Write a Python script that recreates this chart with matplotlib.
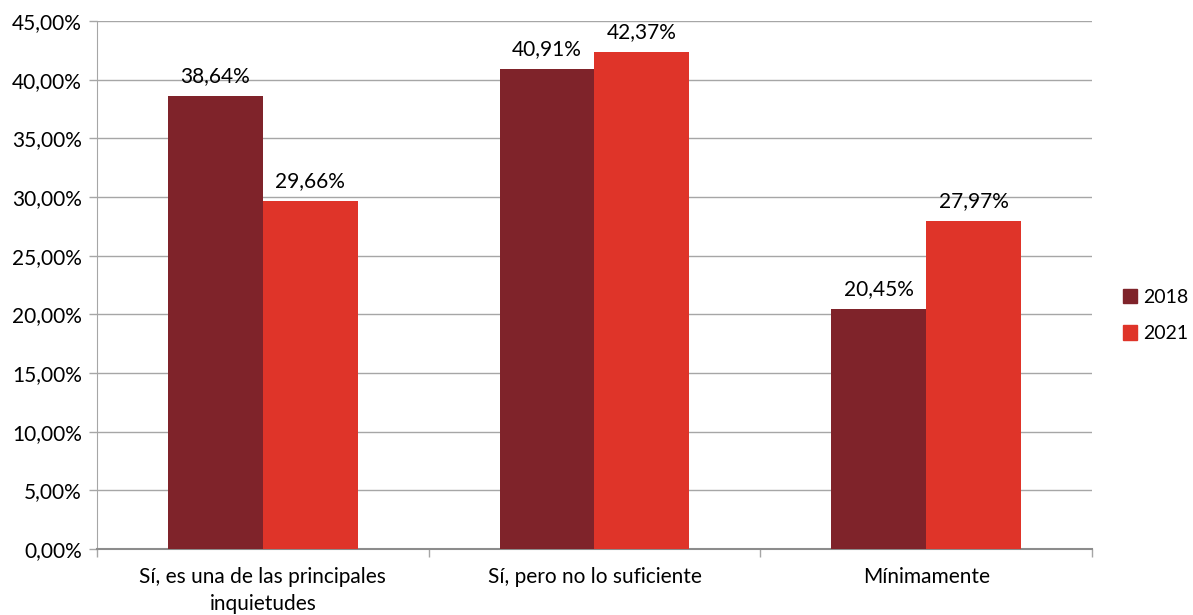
import matplotlib.pyplot as plt
import numpy as np
from matplotlib.patches import Patch

categories = ["Sí, es una de las principales\ninquietudes", "Sí, pero no lo suficiente", "Mínimamente"]
series_names = ["2018", "2021"]
values_2018 = [38.64, 40.91, 20.45]
values_2021 = [29.66, 42.37, 27.97]
colors = ["#7F232A", "#DF3429"]

plt.rcParams["font.family"] = ["Lato", "DejaVu Sans"]
fs = 15

fig = plt.figure(figsize=(11.93, 6.15), dpi=100)
ax = fig.add_axes([0.0813, 0.1073, 0.8340, 0.8586])

x = np.arange(len(categories))
width = 0.286
grid_color = "#A6A6A6"

for i, (vals, name) in enumerate(zip([values_2018, values_2021], series_names)):
    pos = x + (i - 0.5) * width
    bars = ax.bar(pos, vals, width, color=colors[i], label=name, zorder=3)
    ax.bar_label(bars, labels=[f"{v:.2f}%".replace(".", ",") for v in vals],
                 padding=7, fontsize=fs)

ax.set_xlim(-0.5, len(categories) - 0.5)
ax.set_ylim(0, 45)
yticks = np.arange(0, 45.01, 5)
ax.set_yticks(yticks)
ax.set_yticklabels([f"{t:.2f}%".replace(".", ",") for t in yticks], fontsize=fs)
ax.yaxis.grid(True, color=grid_color, linewidth=1, zorder=0)

ax.set_xticks(x)
ax.set_xticklabels(categories, fontsize=fs, linespacing=1.45)
ax.tick_params(axis="x", length=0, pad=13)
ax.set_xticks(np.arange(-0.5, len(categories)), minor=True)
ax.tick_params(axis="x", which="minor", length=6, color=grid_color, width=1)
ax.tick_params(axis="y", length=6, color=grid_color, width=1, pad=5)

for side in ["top", "right"]:
    ax.spines[side].set_visible(False)
ax.spines["left"].set_color(grid_color)
ax.spines["bottom"].set_color("#8C8C8C")
ax.spines["bottom"].set_linewidth(1.5)

handles = [Patch(color=c, label=n) for c, n in zip(colors, series_names)]
fig.legend(handles=handles, loc="center left", bbox_to_anchor=(0.941, 0.487),
           frameon=False, fontsize=14, handlelength=0.75, handleheight=0.75,
           handletextpad=0.3, labelspacing=1.0, borderpad=0, borderaxespad=0)

fig.savefig("out.png", dpi=100)
